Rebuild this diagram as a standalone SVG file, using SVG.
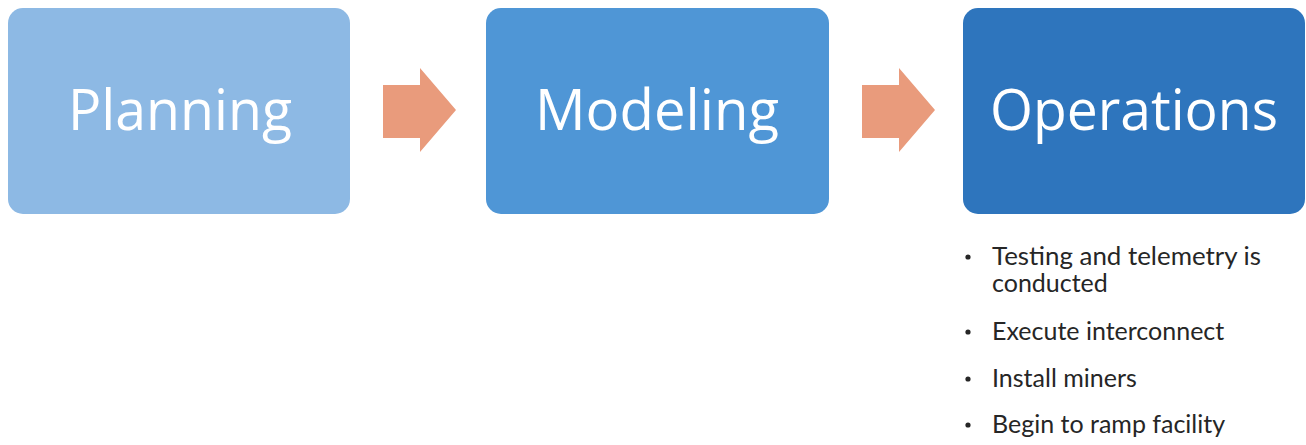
<svg xmlns="http://www.w3.org/2000/svg" width="1306" height="445" viewBox="0 0 1306 445">
<style>
.box{stroke:none}
.lbl{font-family:"Open Sans","Noto Sans",sans-serif;font-size:56px;fill:#ffffff;text-anchor:middle}
.arr{fill:#E99B7C}
.bul{font-family:"Lato","Noto Sans",sans-serif;font-size:25px;fill:#262626}
.dot{fill:#262626}
</style>
<rect width="1306" height="445" fill="#ffffff"/>
<g id="planning">
<rect class="box" x="8" y="8" width="342" height="206" rx="15" fill="#8DB9E4"/>
<text class="lbl" x="180" y="130" textLength="224" lengthAdjust="spacingAndGlyphs">Planning</text>
</g>
<g id="modeling">
<rect class="box" x="486" y="8" width="343" height="206" rx="15" fill="#4F96D6"/>
<text class="lbl" x="657" y="130" textLength="244" lengthAdjust="spacingAndGlyphs">Modeling</text>
</g>
<g id="operations">
<rect class="box" x="963" y="8" width="342" height="206" rx="15" fill="#2E75BD"/>
<text class="lbl" x="1134" y="130" textLength="288" lengthAdjust="spacingAndGlyphs">Operations</text>
</g>
<g id="connectors">
<polygon class="arr" points="383,85 420,85 420,68 456,110 420,152 420,138 383,138"/>
<polygon class="arr" points="862,85 899,85 899,68 935,110 899,152 899,138 862,138"/>
</g>
<g id="bullets" class="bul">
<circle class="dot" cx="968" cy="257" r="2.6"/>
<text><tspan x="992" y="265" textLength="269" lengthAdjust="spacingAndGlyphs">Testing and telemetry is</tspan><tspan x="992" y="292">conducted</tspan></text>
<circle class="dot" cx="968" cy="332" r="2.6"/><text x="992" y="340">Execute interconnect</text>
<circle class="dot" cx="968" cy="379" r="2.6"/><text x="992" y="387">Install miners</text>
<circle class="dot" cx="968" cy="425" r="2.6"/><text x="992" y="433">Begin to ramp facility</text>
</g>
</svg>
